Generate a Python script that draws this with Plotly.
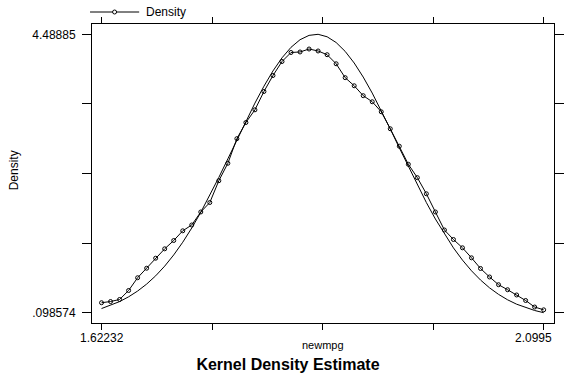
import plotly.graph_objects as go

# evaluation points (newmpg)
newmpg = [1.62232, 1.63206, 1.64180, 1.65154, 1.66127, 1.67101, 1.68075, 1.69049, 1.70023, 1.70997,
          1.71970, 1.72944, 1.73918, 1.74892, 1.75866, 1.76840, 1.77813, 1.78787, 1.79761, 1.80735,
          1.81709, 1.82683, 1.83656, 1.84630, 1.85604, 1.86578, 1.87552, 1.88526, 1.89500, 1.90473,
          1.91447, 1.92421, 1.93395, 1.94369, 1.95343, 1.96316, 1.97290, 1.98264, 1.99238, 2.00212,
          2.01186, 2.02159, 2.03133, 2.04107, 2.05081, 2.06055, 2.07029, 2.08002, 2.08976, 2.09950]

# kernel density estimate (with markers)
density = [0.256, 0.275, 0.307, 0.449, 0.650, 0.800, 0.958, 1.106, 1.237, 1.390,
           1.482, 1.687, 1.836, 2.180, 2.455, 2.843, 3.098, 3.298, 3.587, 3.839,
           4.060, 4.202, 4.210, 4.257, 4.226, 4.167, 4.024, 3.805, 3.677, 3.521,
           3.425, 3.267, 2.999, 2.724, 2.439, 2.228, 1.974, 1.687, 1.403, 1.253,
           1.122, 0.964, 0.796, 0.662, 0.540, 0.461, 0.378, 0.291, 0.188, 0.144]

# overlaid smooth (normal) density
normal_density = [0.1640, 0.2130, 0.2740, 0.3490, 0.4400, 0.5500, 0.6800, 0.8330, 1.0100, 1.2100,
                  1.4341, 1.6819, 1.9493, 2.2320, 2.5256, 2.8231, 3.1185, 3.4036, 3.6706, 3.9114,
                  4.1180, 4.2837, 4.4035, 4.4720, 4.48885, 4.4497, 4.3594, 4.2198, 4.0363, 3.8145,
                  3.5621, 3.2866, 2.9961, 2.6991, 2.4022, 2.1126, 1.8356, 1.5759, 1.3370, 1.1206,
                  0.9281, 0.7595, 0.6142, 0.4906, 0.3873, 0.3021, 0.2329, 0.1772, 0.1334, 0.098574]

x_ticks = [1.62232, 1.741615, 1.86091, 1.980205, 2.0995]
x_tick_labels = ["1.62232", "", "", "", "2.0995"]
y_ticks = [0.098574, 1.196143, 2.293712, 3.391281, 4.48885]
y_tick_labels = [".098574", "", "", "", "4.48885"]

FONT = "Arial, Liberation Sans, sans-serif"

fig = go.Figure()
fig.add_trace(go.Scatter(x=newmpg, y=normal_density, mode="lines",
                         line=dict(color="black", width=1), showlegend=False))
fig.add_trace(go.Scatter(x=newmpg, y=density, mode="lines+markers", name="Density",
                         line=dict(color="black", width=1),
                         marker=dict(symbol="circle-open", size=4, color="black",
                                     line=dict(color="black", width=1)),
                         showlegend=False))

annotations = [
    dict(text=x_tick_labels[0], x=x_ticks[0], xref="x", y=0, yref="paper", yanchor="top",
         xanchor="center", yshift=-6, showarrow=False, font=dict(family=FONT, size=12, color="black")),
    dict(text=x_tick_labels[-1], x=x_ticks[-1], xref="x", y=0, yref="paper", yanchor="top",
         xanchor="right", xshift=10, yshift=-6, showarrow=False, font=dict(family=FONT, size=12, color="black")),
    dict(text="newmpg", x=0.5, xref="paper", y=-0.074, yref="paper", yanchor="middle",
         showarrow=False, font=dict(family=FONT, size=11, color="black")),
    dict(text="Density", x=-0.17, xref="paper", y=0.512, yref="paper", textangle=-90,
         xanchor="center", yanchor="middle", showarrow=False,
         font=dict(family=FONT, size=12, color="black")),
    dict(text="Density", x=0.1128, xref="paper", y=1.0401, yref="paper", xanchor="left",
         yanchor="middle", showarrow=False, font=dict(family=FONT, size=12, color="black")),
]

shapes = [
    dict(type="line", xref="paper", yref="paper", x0=-0.00426, x1=0.1021, y0=1.0401, y1=1.0401,
         line=dict(color="black", width=1)),
    dict(type="circle", xref="paper", yref="paper", xsizemode="pixel", ysizemode="pixel",
         xanchor=0.0489, yanchor=1.0401, x0=-2, x1=2, y0=-2, y1=2,
         line=dict(color="black", width=1), fillcolor="white"),
]

fig.update_layout(
    width=576, height=384, autosize=False,
    margin=dict(l=92, r=14, t=24, b=61, pad=0),
    paper_bgcolor="white", plot_bgcolor="white",
    font=dict(family=FONT, size=12, color="black"),
    title=dict(text="<b>Kernel Density Estimate</b>", xref="container", x=0.5, xanchor="center",
               yref="container", y=1 - 364 / 384, yanchor="middle",
               font=dict(family=FONT, size=16, color="black")),
    annotations=annotations,
    shapes=shapes,
    showlegend=False,
)
fig.update_xaxes(range=[1.61203, 2.11064], tickvals=x_ticks, ticktext=x_tick_labels,
                 showticklabels=False, ticks="outside", ticklen=6, tickcolor="black", tickwidth=1,
                 showline=True, linecolor="black", linewidth=1, mirror="ticks",
                 showgrid=False, zeroline=False)
fig.update_yaxes(range=[-0.0638, 4.6513], tickvals=y_ticks, ticktext=y_tick_labels,
                 ticks="outside", ticklen=9, tickcolor="black", tickwidth=1, ticklabelstandoff=4,
                 showline=True, linecolor="black", linewidth=1, mirror="ticks",
                 showgrid=False, zeroline=False, tickfont=dict(family=FONT, size=12, color="black"))

fig.write_html("out.html", config={"responsive": False, "displayModeBar": False},
               post_script="document.body.style.margin='0';document.body.style.overflow='hidden';")
